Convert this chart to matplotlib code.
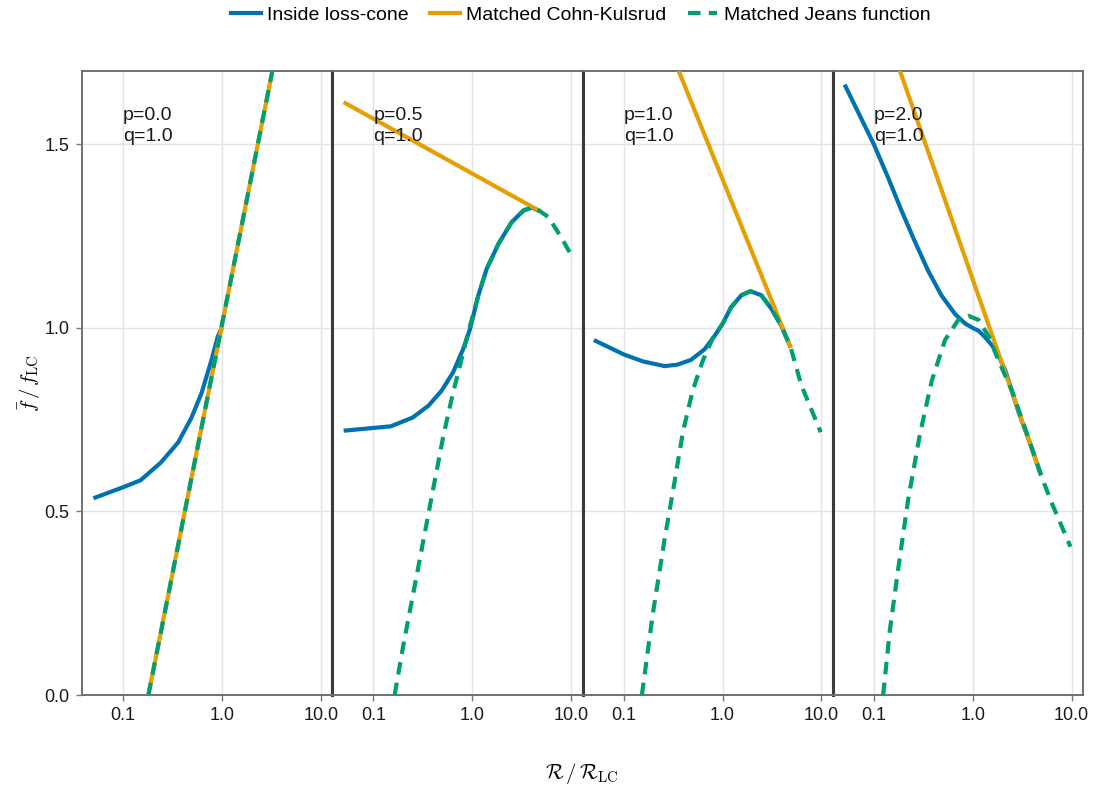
import numpy as np
import matplotlib
matplotlib.use("Agg")
import matplotlib.pyplot as plt
from matplotlib.lines import Line2D
from matplotlib.ticker import FixedLocator, FixedFormatter, NullLocator

plt.rcParams["font.family"] = ["Liberation Sans", "DejaVu Sans"]
plt.rcParams["mathtext.fontset"] = "cm"

# ---- data -------------------------------------------------------------
p_values = ["0.0", "0.5", "1.0", "2.0"]
q_values = ["1.0", "1.0", "1.0", "1.0"]

# f / f_LC inside the loss cone
inside_R = [
    [0.05, 0.10, 0.15, 0.24, 0.36, 0.49, 0.62, 0.78, 0.91, 1.0],
    [0.05, 0.15, 0.25, 0.36, 0.49, 0.64, 0.81, 0.95, 1.15, 1.40, 1.84, 2.5, 3.3, 4.0, 4.85],
    [0.05, 0.10, 0.156, 0.26, 0.35, 0.48, 0.66, 0.83, 1.0, 1.22, 1.55, 1.92, 2.47, 3.11, 3.93, 4.9],
    [0.0506, 0.10, 0.139, 0.19, 0.26, 0.355, 0.484, 0.662, 0.836, 1.0, 1.15, 1.33, 1.69, 2.13, 2.91, 3.97, 4.9],
]
inside_f = [
    [0.536, 0.566, 0.585, 0.633, 0.688, 0.755, 0.822, 0.911, 0.978, 1.0],
    [0.720, 0.732, 0.756, 0.788, 0.829, 0.879, 0.943, 0.997, 1.088, 1.161, 1.229, 1.288, 1.320, 1.328, 1.318],
    [0.967, 0.928, 0.909, 0.896, 0.900, 0.913, 0.942, 0.978, 1.011, 1.056, 1.089, 1.100, 1.089, 1.053, 1.006, 0.946],
    [1.663, 1.500, 1.410, 1.320, 1.235, 1.155, 1.088, 1.038, 1.012, 1.0, 0.992, 0.975, 0.942, 0.885, 0.770, 0.672, 0.599],
]

# matched Cohn-Kulsrud solution
ck_R = [
    [0.18, 3.4],
    [0.05, 4.85],
    [0.352, 4.9],
    [0.18, 4.9],
]
ck_f = [
    [0.0, 1.73],
    [1.615, 1.318],
    [1.707, 0.946],
    [1.707, 0.599],
]

# matched Jeans function
jeans_R = [
    [0.18, 3.4],
    [0.164, 0.20, 0.29, 0.39, 0.51, 0.64, 0.78, 0.91, 1.15, 1.40, 1.84, 2.5, 3.3, 4.0, 4.85, 5.9, 8.1, 9.85],
    [0.153, 0.197, 0.258, 0.327, 0.40, 0.50, 0.63, 0.79, 1.0, 1.22, 1.55, 1.92, 2.47, 3.11, 3.93, 4.9, 6.27, 9.85],
    [0.124, 0.145, 0.176, 0.222, 0.292, 0.384, 0.524, 0.714, 0.904, 1.143, 1.442, 1.824, 2.5, 3.5, 4.9, 6.34, 9.73],
]
jeans_f = [
    [0.0, 1.73],
    [0.0, 0.133, 0.36, 0.542, 0.706, 0.824, 0.915, 0.988, 1.088, 1.161, 1.229, 1.288, 1.320, 1.328, 1.318, 1.302, 1.243, 1.202],
    [0.0, 0.22, 0.42, 0.58, 0.72, 0.83, 0.91, 0.97, 1.011, 1.056, 1.089, 1.100, 1.089, 1.053, 1.006, 0.946, 0.844, 0.716],
    [0.0, 0.176, 0.343, 0.532, 0.710, 0.855, 0.967, 1.022, 1.033, 1.022, 0.978, 0.911, 0.828, 0.715, 0.599, 0.521, 0.404],
]

x_ticks = [0.1, 1.0, 10.0]
x_tick_labels = ["0.1", "1.0", "10.0"]
y_ticks = [0.0, 0.5, 1.0, 1.5]
y_tick_labels = ["0.0", "0.5", "1.0", "1.5"]

# ---- styling ----------------------------------------------------------
BLUE = "#0072B2"
ORANGE = "#E69F00"
GREEN = "#009E73"
LW = 3.0
DASHES = (3.0, 2.0)
FS = 13

W, H = 1101, 791
fig = plt.figure(figsize=(W / 100, H / 100), dpi=100)

left_px, right_px, top_px, bottom_px = 82, 1083, 71, 695
panel_w = (right_px - left_px) / 4
lo, hi = np.log10(0.05), np.log10(10.0)
pad = 0.05 * (hi - lo)
xlim = (10 ** (lo - pad), 10 ** (hi + pad))

axes = []
for k in range(4):
    ax = fig.add_axes([
        (left_px + k * panel_w) / W,
        1 - bottom_px / H,
        panel_w / W,
        (bottom_px - top_px) / H,
    ])
    axes.append(ax)
    ax.set_xscale("log")
    ax.set_xlim(*xlim)
    ax.set_ylim(0, 1.7)

    ax.xaxis.set_major_locator(FixedLocator(x_ticks))
    ax.xaxis.set_major_formatter(FixedFormatter(x_tick_labels))
    ax.xaxis.set_minor_locator(NullLocator())
    ax.yaxis.set_major_locator(FixedLocator(y_ticks))
    ax.yaxis.set_minor_locator(NullLocator())
    if k == 0:
        ax.yaxis.set_major_formatter(FixedFormatter(y_tick_labels))
    else:
        ax.tick_params(axis="y", left=False, labelleft=False)

    ax.tick_params(direction="out", length=4, width=1.0, color="#777777",
                   labelsize=FS, labelcolor="#1a1a1a", pad=5)
    ax.grid(True, color="#e4e4e4", lw=1.0, zorder=0)
    ax.set_axisbelow(True)

    for side in ("top", "bottom", "left", "right"):
        ax.spines[side].set_color("#6f6f6f")
        ax.spines[side].set_linewidth(1.4)
    if k > 0:
        ax.spines["left"].set_color("#3a3a3a")
        ax.spines["left"].set_linewidth(2.2)
    if k < 3:
        ax.spines["right"].set_color("#3a3a3a")
        ax.spines["right"].set_linewidth(2.2)

    ax.plot(inside_R[k], inside_f[k], color=BLUE, lw=LW, solid_capstyle="butt",
            solid_joinstyle="round", zorder=3)
    ax.plot(ck_R[k], ck_f[k], color=ORANGE, lw=LW, solid_capstyle="butt", zorder=4)
    ax.plot(jeans_R[k], jeans_f[k], color=GREEN, lw=LW, dashes=DASHES,
            dash_capstyle="butt", zorder=5)

    ax.text(0.1, 1.603, f"p={p_values[k]}\nq={q_values[k]}", fontsize=14,
            ha="left", va="top", color="#1a1a1a", linespacing=1.32, zorder=6)

fig.text(30 / W, 1 - 383 / H, r"$\bar{f}\,/\,f_{\mathrm{LC}}$", rotation=90,
         ha="center", va="center", fontsize=15)
fig.text(582 / W, 1 - 773 / H, r"$\mathcal{R}\,/\,\mathcal{R}_{\mathrm{LC}}$",
         ha="center", va="center", fontsize=15)

handles = [
    Line2D([], [], color=BLUE, lw=LW),
    Line2D([], [], color=ORANGE, lw=LW),
    Line2D([], [], color=GREEN, lw=LW, dashes=DASHES),
]
labels = ["Inside loss-cone", "Matched Cohn-Kulsrud", "Matched Jeans function"]
fig.legend(handles, labels, loc="center", bbox_to_anchor=(581 / W, 1 - 15 / H),
           ncol=3, frameon=False, fontsize=14, handlelength=1.5,
           handletextpad=0.35, columnspacing=1.1)

fig.savefig("out.png", dpi=100)
